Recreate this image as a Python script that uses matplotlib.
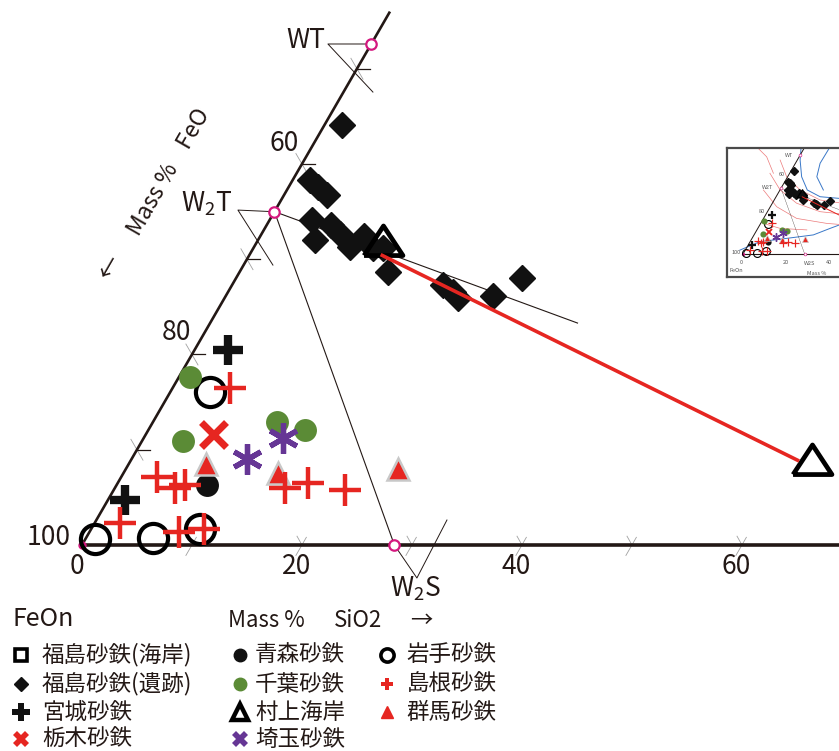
import numpy as np
import matplotlib
matplotlib.use('Agg')
import matplotlib.pyplot as plt

plt.rcParams['font.family'] = ['Noto Sans CJK JP', 'DejaVu Sans']

INK = '#231815'
RED = '#e62621'
GREEN = '#5b8b36'
PURPLE = '#663695'
MAGENTA = '#d4187f'
GRAY = '#a0a0a0'

SQ3 = np.sqrt(3) / 2

# compositions, mass %  (SiO2, TiO2); FeO is the remainder
fukushima_site_sio2 = [1.6, 1.6, 2.7, 3.9, 3.9, 5.2, 5.8, 7.2, 8.7, 9.4, 10.9, 11.8, 13.5,
                       19.2, 20.4, 21.2, 24.3, 26.0]
fukushima_site_tio2 = [44.1, 38.3, 37.6, 36.7, 34.1, 32.0, 33.6, 32.6, 31.3, 32.4, 31.2, 31.2, 28.7,
                       27.3, 26.6, 25.9, 26.1, 28.0]
murakami_sio2 = [11.5, 62.0]
murakami_tio2 = [31.7, 8.7]
iwate_sio2 = [3.6, 0.9, 6.1, 9.9]
iwate_tio2 = [16.1, 0.6, 0.7, 1.7]
chiba_sio2 = [1.0, 3.7, 11.3, 14.2]
chiba_tio2 = [17.6, 10.9, 12.9, 12.1]
aomori_sio2 = [8.2]
aomori_tio2 = [6.3]
gunma_sio2 = [7.0, 14.0, 24.7]
gunma_tio2 = [8.5, 7.6, 8.0]
saitama_sio2 = [10.5, 12.7]
saitama_tio2 = [9.0, 11.2]
tochigi_sio2 = [6.1]
tochigi_tio2 = [11.7]
miyagi_sio2 = [3.0, 1.6]
miyagi_tio2 = [20.5, 4.7]
shimane_sio2 = [5.2, 3.3, 5.5, 6.2, 2.3, 8.1, 10.2, 15.5, 17.3, 21.0]
shimane_tio2 = [16.5, 7.1, 6.0, 6.3, 2.3, 1.4, 1.7, 6.0, 6.5, 5.8]

# reference compounds (SiO2, TiO2)
compound_names = ['WT', 'W$_\\mathregular{2}$T', 'W$_\\mathregular{2}$S']
compound_sio2 = [0.0, 0.0, 28.4]
compound_tio2 = [52.6, 35.0, 0.0]

# joins drawn through the data
tie_sio2 = [0.0, 33.4]
tie_tio2 = [35.0, 23.3]
red_sio2 = [12.1, 60.6]
red_tio2 = [30.4, 8.9]

left_ticks = [10, 20, 30, 40, 50]
left_labels = {40: '60', 20: '80', 0: '100'}
bottom_ticks = [10, 20, 30, 40, 50, 60]
bottom_labels = [0, 20, 40, 60]

legend_rows = [
    ('福島砂鉄(海岸)', '青森砂鉄', '岩手砂鉄'),
    ('福島砂鉄(遺跡)', '千葉砂鉄', '島根砂鉄'),
    ('宮城砂鉄', '村上海岸', '群馬砂鉄'),
    ('栃木砂鉄', '埼玉砂鉄', None),
]

# isotherm / boundary traces of the small phase diagram, cartesian units
inset_blue = [
    ([27.0, 26.3, 27.0, 29.6, 35.5, 44.7], [52.5, 43.3, 35.6, 29.5, 26.4, 25.6]),
    ([40.1, 35.5, 34.0, 37.0], [49.4, 41.8, 35.6, 29.5]),
    ([-1.4, 7.8, 20.1, 32.4, 40.1, 46.0], [1.8, 5.7, 7.2, 8.8, 11.8, 14.0]),
]
inset_red = [
    ([17.1, 20.1, 26.3, 35.5, 45.0], [43.3, 35.6, 29.5, 24.9, 23.5]),
    ([12.4, 17.1, 24.7, 35.5, 45.0], [37.2, 29.5, 23.4, 19.5, 18.5]),
    ([9.4, 15.5, 24.7, 38.6, 46.0], [29.5, 21.8, 16.4, 14.1, 13.5]),
    ([6.3, 10.9, 14.0], [49.4, 44.8, 37.2]),
    ([9.4, 17.1, 29.4], [14.1, 11.8, 11.1]),
]

# flat, wide triangle used for the Murakami points
FLAT_TRI = [(-1.0, -0.62), (1.0, -0.62), (0.0, 0.9), (-1.0, -0.62)]


def tern(sio2, tio2):
    sio2 = np.asarray(sio2, float)
    tio2 = np.asarray(tio2, float)
    return sio2 + tio2 / 2, tio2 * SQ3


def draw_samples(ax, k=1.0):
    x, y = tern(tie_sio2, tie_tio2)
    ax.plot(x, y, color=INK, lw=0.8 * k, zorder=2)
    x, y = tern([compound_sio2[1], compound_sio2[2]], [compound_tio2[1], compound_tio2[2]])
    ax.plot(x, y, color=INK, lw=0.8 * k, zorder=2)

    x, y = tern(fukushima_site_sio2, fukushima_site_tio2)
    ax.plot(x, y, ls='none', marker='D', ms=13.5 * k, color='#111111', zorder=3)
    x, y = tern(murakami_sio2, murakami_tio2)
    ax.plot(x, y, ls='none', marker=FLAT_TRI, ms=28 * k, mfc='none', mec='black',
            mew=3.4 * k, zorder=4)
    x, y = tern(red_sio2, red_tio2)
    ax.plot(x, y, color=RED, lw=2.6 * k, zorder=5)

    x, y = tern(iwate_sio2, iwate_tio2)
    ax.plot(x, y, ls='none', marker='o', ms=21 * k, mfc='none', mec='black',
            mew=3.0 * k, zorder=6)
    x, y = tern(chiba_sio2, chiba_tio2)
    ax.plot(x, y, ls='none', marker='o', ms=16.5 * k, color=GREEN, mew=0, zorder=7)
    x, y = tern(aomori_sio2, aomori_tio2)
    ax.plot(x, y, ls='none', marker='o', ms=16.5 * k, color='#111111', mew=0, zorder=7)
    x, y = tern(gunma_sio2, gunma_tio2)
    ax.plot(x, y, ls='none', marker='^', ms=16.5 * k, mfc=RED, mec='#c8c8c8',
            mew=1.8 * k, zorder=8)
    x, y = tern(saitama_sio2, saitama_tio2)
    ax.plot(x, y, ls='none', marker=(6, 2, 0), ms=22 * k, color=PURPLE,
            mew=3.8 * k, zorder=9)
    x, y = tern(tochigi_sio2, tochigi_tio2)
    ax.plot(x, y, ls='none', marker='x', ms=18 * k, color=RED, mew=5.0 * k, zorder=9)
    x, y = tern(miyagi_sio2, miyagi_tio2)
    ax.plot(x, y, ls='none', marker='+', ms=21 * k, color='#111111', mew=6.0 * k, zorder=9)
    x, y = tern(shimane_sio2, shimane_tio2)
    ax.plot(x, y, ls='none', marker='+', ms=23 * k, color=RED, mew=3.2 * k, zorder=10)

    x, y = tern(compound_sio2, compound_tio2)
    ax.plot(x, y, ls='none', marker='o', ms=7.5 * k, mfc='white', mec=MAGENTA,
            mew=1.6 * k, zorder=11)
    ax.plot(0, 0, ls='none', marker='o', ms=5 * k, color=MAGENTA, zorder=5)


fig = plt.figure(figsize=(8.39, 7.51), dpi=100)
ax = fig.add_axes([0, 0, 1, 1])
ax.set_xlim(-7.45, 68.82)
ax.set_ylim(-18.73, 49.55)
ax.axis('off')

# triangle edges
x, y = tern([0, 0], [0, 56])
ax.plot(x, y, color=INK, lw=1.9, solid_capstyle='butt', zorder=2)
x, y = tern([0, 72], [0, 0])
ax.plot(x, y, color=INK, lw=2.6, solid_capstyle='butt', zorder=2)

for t in left_ticks:
    x0, y0 = tern(0, t)
    ax.plot([x0, x0 + 1.2], [y0, y0], color=INK, lw=0.9, zorder=2)
    ax.plot([x0 - 0.55, x0 + 0.55], [y0 + 0.95, y0 - 0.95], color=GRAY, lw=0.6, zorder=1)
for a in bottom_ticks:
    x0, y0 = tern(a, 0)
    ax.plot([x0 - 0.55, x0 + 0.4], [y0 - 0.95, y0 + 0.7], color=GRAY, lw=0.6, zorder=1)
    ax.plot([x0, x0 - 0.45], [y0, y0 + 0.8], color=GRAY, lw=0.6, zorder=1)

tick_kw = dict(fontsize=19, color=INK, ha='center', va='center')
label_offsets = {40: (-1.6, 1.9), 20: (-1.4, 2.0), 0: (-3.0, 0.7)}
for t, txt in left_labels.items():
    x0, y0 = tern(0, t)
    dx, dy = label_offsets[t]
    ax.text(x0 + dx, y0 + dy, txt, **tick_kw)
for a in bottom_labels:
    x0, y0 = tern(a, 0)
    ax.text(x0 - 0.5, y0 - 2.0, str(a), **tick_kw)

ax.text(7.9, 33.95, 'Mass %    FeO', rotation=60, fontsize=16.5, color=INK,
        ha='center', va='center', rotation_mode='anchor')
ax.text(2.55, 25.2, '←', rotation=60, fontsize=17, color=INK,
        ha='center', va='center', rotation_mode='anchor')

# compound labels with their pointer lines
ax.text(20.36, 45.9, compound_names[0], fontsize=19, color=INK, ha='center', va='center')
ax.text(11.36, 31.0, compound_names[1], fontsize=19, color=INK, ha='center', va='center')
ax.text(30.36, -4.0, compound_names[2], fontsize=19, color=INK, ha='center', va='center')
pointer_kw = dict(color=INK, lw=0.7, zorder=2)
ax.plot([26.3, 22.36, 26.45], [45.55, 45.55, 41.18], **pointer_kw)
ax.plot([17.5, 14.18, 17.36], [30.3, 30.45, 25.45], **pointer_kw)
ax.plot([28.4, 30.45, 33.18], [0.0, -3.0, 2.27], **pointer_kw)

draw_samples(ax)

# axis title under the plot
ax.text(-6.27, -6.7, 'FeOn', fontsize=18, color=INK, ha='left', va='center')
ax.text(13.27, -6.9, 'Mass %', fontsize=16, color=INK, ha='left', va='center')
ax.text(22.9, -6.9, 'SiO2', fontsize=16, color=INK, ha='left', va='center')
ax.text(29.8, -6.9, '→', fontsize=16, color=INK, ha='left', va='center')

# legend
row_y = [-10.0, -12.64, -15.2, -17.68]
col_marker_x = [-5.55, 14.36, 27.7]
col_text_x = [-3.64, 15.73, 29.5]
legend_styles = [
    [dict(marker='s', ms=8.5, mfc='white', mec='black', mew=2.6),
     dict(marker='o', ms=9, color='#111111'),
     dict(marker='o', ms=9.5, mfc='white', mec='black', mew=2.6)],
    [dict(marker='D', ms=7, color='#111111'),
     dict(marker='o', ms=9, color=GREEN),
     dict(marker='P', ms=9, color=RED, mew=0)],
    [dict(marker='P', ms=13, color='#111111', mew=0),
     dict(marker='^', ms=12, mfc='white', mec='black', mew=3.2),
     dict(marker='^', ms=9, color=RED)],
    [dict(marker='X', ms=12, color=RED, mew=0),
     dict(marker='X', ms=12, color=PURPLE, mew=0),
     None],
]
for r, names in enumerate(legend_rows):
    for c, name in enumerate(names):
        if name is None:
            continue
        ax.plot(col_marker_x[c], row_y[r], ls='none', **legend_styles[r][c])
        ax.text(col_text_x[c], row_y[r], name, fontsize=16.2, color=INK,
                ha='left', va='center')

# small copy of the full phase diagram
ins = fig.add_axes([727 / 839, 474 / 751, 140 / 839, 129 / 751])
ins.set_xlim(-7.37, 57.1)
ins.set_ylim(-10.6, 48.85)
ins.set_xticks([])
ins.set_yticks([])
for s in ins.spines.values():
    s.set_color('#4a4a4a')
    s.set_linewidth(1.6)
for xs, ys in inset_blue:
    ins.plot(xs, ys, color='#3a78c8', lw=0.7)
for xs, ys in inset_red:
    ins.plot(xs, ys, color='#ec7a7a', lw=0.5)
x, y = tern([0, 0], [0, 60])
ins.plot(x, y, color=INK, lw=0.7)
x, y = tern([0, 72], [0, 0])
ins.plot(x, y, color=INK, lw=0.8)
draw_samples(ins, k=0.27)
small = dict(fontsize=4, color='#555555', ha='center', va='center')
ins.text(-3.0, 0.5, '100', **small)
ins.text(-1.0, -4.0, '0', **small)
ins.text(19.5, -4.0, '20', **small)
ins.text(39.5, -4.0, '40', **small)
ins.text(8.5, 19.5, '80', **small)
ins.text(18.0, 36.5, '60', **small)
ins.text(21.0, 45.5, 'WT', **small)
ins.text(11.5, 30.5, 'W2T', **small)
ins.text(30.5, -4.5, 'W2S', **small)
ins.text(-3.0, -7.5, 'FeOn', **small)
ins.text(34.0, -9.0, 'Mass %', **small)

fig.savefig('out.png', dpi=100)
